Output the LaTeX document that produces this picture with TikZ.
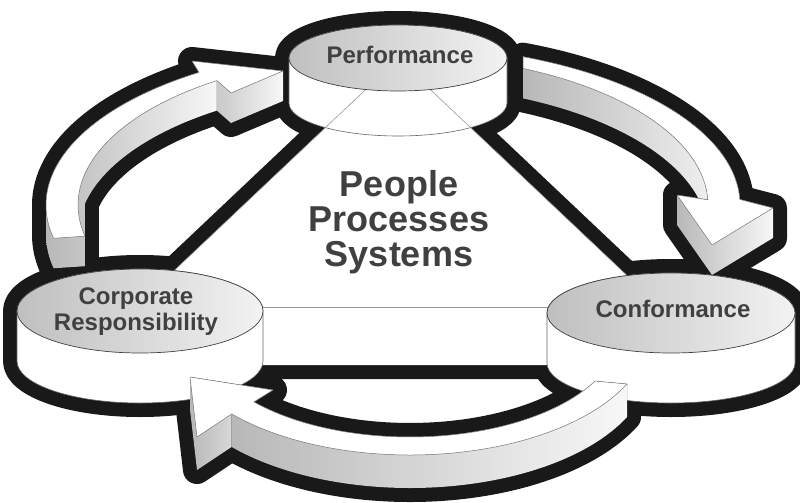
\documentclass[tikz,border=0pt]{standalone}
\usepackage{fontspec}
\setmainfont{Liberation Sans}

% top faces of the three ring arrows (pixel units, y down)
\newcommand{\arrowA}{(53.6,238.3) arc[start angle=168, end angle=236, x radius=347, y radius=160] -- (192,61) -- (283,71) -- (231,93) -- (216.9,80.6) arc[start angle=236, end angle=168, x radius=315, y radius=150] -- cycle}
\newcommand{\arrowB}{(523,56.7) arc[start angle=292, end angle=358, x radius=347, y radius=160] -- (773,208) -- (712,245) -- (677,195) -- (707.8,199.8) arc[start angle=358, end angle=294.4, x radius=315, y radius=150] -- cycle}
\newcommand{\arrowC}{(627,384) arc[start angle=25.3, end angle=138, x radius=240, y radius=124] -- (197,437) -- (190,377) -- (273,390) -- (253.9,401.9) arc[start angle=138, end angle=28.2, x radius=210, y radius=106] -- cycle}

% outlines of the extruded shafts and heads
\newcommand{\shaftA}{(46,205) arc[start angle=180, end angle=236, x radius=347, y radius=160] -- (216.9,80.6) -- (216.9,110.6) arc[start angle=236, end angle=192, x radius=315, y radius=150] -- (84.9,266.2) -- (53.6,268.3) arc[start angle=168, end angle=180, x radius=347, y radius=160] -- cycle}
\newcommand{\headA}{(192,61) -- (283,71) -- (283,101) -- (231,123) -- (216.9,110.6) -- (216.9,80.6) -- (199,72.4) -- cycle}
\newcommand{\shaftB}{(523,56.7) arc[start angle=292, end angle=358, x radius=347, y radius=160] -- (739.8,229.4) -- (707.8,229.8) arc[start angle=358, end angle=294.4, x radius=315, y radius=150] -- cycle}
\newcommand{\headB}{(677,195) -- (707.8,199.8) -- (739.8,199.4) -- (773,208) -- (773,238) -- (712,275) -- (677,225) -- cycle}
\newcommand{\shaftC}{(595.1,381.1) -- (627,384) -- (627,417) arc[start angle=25.3, end angle=138, x radius=240, y radius=124] -- (231.6,414) -- (253.9,401.9) arc[start angle=138, end angle=28.2, x radius=210, y radius=106] -- cycle}
\newcommand{\headC}{(190,377) -- (273,390) -- (253.9,401.9) -- (231.6,414) -- (231.6,447) -- (197,470) -- (190,410) -- cycle}

% side of a drum: centre, radii, depth
\newcommand{\drum}[5]{(#1-#3,#2) -- (#1-#3,#2+#5) arc[start angle=180, end angle=0, x radius=#3, y radius=#4] -- (#1+#3,#2) arc[start angle=0, end angle=-180, x radius=#3, y radius=#4] -- cycle}

\begin{document}
\begin{tikzpicture}[x=1pt, y=-1pt,
  blackrim/.style={draw=black!90, fill=black!90, line width=28pt, line join=round},
  sideface/.style={left color=black!28, right color=black!3},
  topface/.style={fill=white, draw=black!55, line width=0.5pt, line join=round},
  drumbody/.style={fill=white, draw=black!60, line width=0.6pt},
  drumtop/.style={left color=black!25, right color=black!5, draw=black!75, line width=0.7pt},
  facet/.style={draw=black!40, line width=0.6pt},
  tagtext/.style={font=\bfseries\fontsize{24}{26}\selectfont, text=black!75, align=center},
  bigtext/.style={font=\bfseries\fontsize{36}{35}\selectfont, text=black!75, align=center}]

  \useasboundingbox (0,0) rectangle (800,503);
  \clip (0,0) rectangle (800,503);

  % black rims under everything
  \path[blackrim] (398,59) -- (160,284) -- (160,365) -- (636,365) -- (636,284) -- cycle;
  \foreach \cx/\cy/\rx/\ry/\h in {398/58/109/33/45, 140/311/123/42/50, 671/313/124/40/50}
    \path[blackrim] \drum{\cx}{\cy}{\rx}{\ry}{\h};
  \path[blackrim] \shaftA;
  \path[blackrim] \headA;
  \path[blackrim] \shaftB;
  \path[blackrim] \headB;
  \path[blackrim] \shaftC;
  \path[blackrim] \headC;

  % triangle slab
  \fill[white] (398,59) -- (160,284) -- (160,365) -- (636,365) -- (636,284) -- cycle;

  % upper arrows
  \fill[sideface] \shaftA;
  \fill[sideface] \headA;
  \fill[sideface] \shaftB;
  \fill[sideface] \headB;
  \path[topface] \arrowA;
  \path[topface] \arrowB;

  % drums
  \path[drumbody] \drum{398}{58}{109}{33}{45};
  \draw[facet] (398,59) -- (160,284);
  \draw[facet] (398,59) -- (636,284);
  \draw[facet] (160,307) -- (636,307);
  \path[drumtop] (398,58) ellipse[x radius=109, y radius=33];
  \path[drumbody] \drum{140}{311}{123}{42}{50};
  \path[drumtop] (140,311) ellipse[x radius=123, y radius=42];
  \path[drumbody] \drum{671}{313}{124}{40}{50};
  \path[drumtop] (671,313) ellipse[x radius=124, y radius=40];

  % lower arrow
  \fill[sideface] \shaftC;
  \fill[sideface] \headC;
  \path[topface] \arrowC;

  \node[tagtext] (perf) at (400,55) {Performance};
  \node[tagtext] (corp) at (136,312) {Corporate\\Responsibility};
  \node[tagtext] (conf) at (673,309) {Conformance};
  \node[bigtext] (core) at (399,222) {People\\Processes\\Systems};
\end{tikzpicture}
\end{document}
